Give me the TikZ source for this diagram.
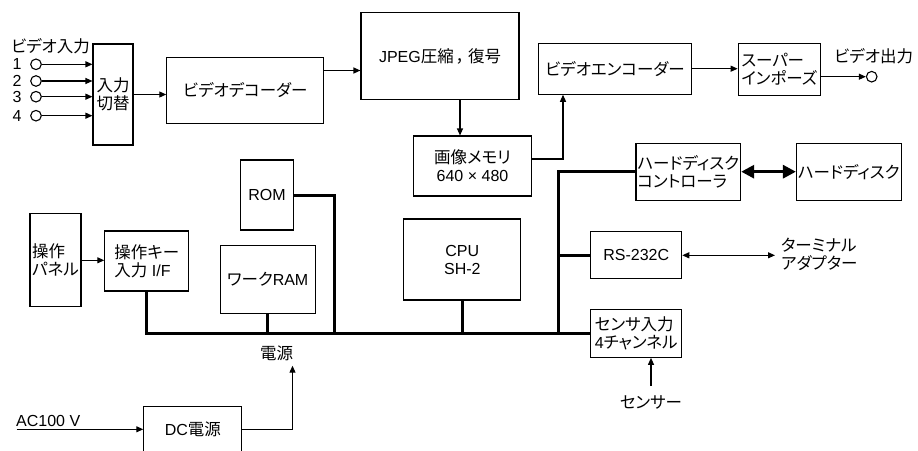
\documentclass[tikz,border=0pt]{standalone}
\usepackage{fontspec}
\setmainfont{Liberation Sans}
\newfontfamily\jp[RawFeature=+palt, Scale=1.03]{Noto Sans CJK JP}
\usetikzlibrary{arrows.meta}

\begin{document}
\begin{tikzpicture}[x=1pt, y=-1pt,
    box/.style={draw, line width=1.1pt, inner sep=1.5pt, font=\fontsize{16}{18}\selectfont},
    lbl/.style={inner sep=1pt, font=\fontsize{16}{18}\selectfont},
    jack/.style={circle, draw, line width=1.1pt, minimum size=10.6pt, inner sep=0pt},
    arr/.style={line width=1.1pt, -{Triangle[length=7pt,width=6pt]}},
    dblarr/.style={line width=1.1pt, {Triangle[length=7pt,width=6pt]}-{Triangle[length=7pt,width=6pt]}},
    bus/.style={line width=3pt},
]
\useasboundingbox (0,0) rectangle (918,450);

% Video path
\node[lbl, anchor=west] (vin) at (10,46) {\jp ビデオ入力};
\node[box, minimum width=40pt, minimum height=101pt, align=center] (sw) at (113,94.5) {{\jp 入力}\\{\jp 切替}};
\foreach \n/\y in {1/64.3, 2/81, 3/96.7, 4/115.7} {
    \node[jack] (in\n) at (36,\y) {};
    \node[lbl] (num\n) at (17,\y) {\n};
    \draw[arr] (in\n.east) -- (in\n.east -| sw.west);
}
\node[box, minimum width=157pt, minimum height=66pt] (dec) at (245.3,90.5) {\jp ビデオデコーダー};
\node[box, minimum width=158pt, minimum height=87pt] (jpeg) at (440,56.3) {JPEG{\jp 圧縮\hspace{3pt}，\hspace{3pt}復号}};
\node[box, minimum width=118pt, minimum height=60pt, align=center] (mem) at (472.5,166) {{\jp 画像メモリ}\\640 × 480};
\node[box, minimum width=153pt, minimum height=51pt] (enc) at (615,68.7) {\jp ビデオエンコーダー};
\node[box, minimum width=82pt, minimum height=52pt, align=left] (sup) at (779.2,69.2) {{\jp スーパー}\\{\jp インポーズ}};
\node[jack] (vout) at (871.7,76.7) {};
\node[lbl] (voutl) at (873.7,56) {\jp ビデオ出力};

\draw[arr] (sw.east) -- (sw.east -| dec.west);
\draw[arr] ([yshift=20pt]dec.east) -- ([yshift=20pt]dec.east -| jpeg.west);
\draw[arr] ([xshift=20pt]jpeg.south) -- ([xshift=20pt]jpeg.south |- mem.north);
\draw[arr] ([yshift=7pt]mem.east) -| ([xshift=-52pt]enc.south);
\draw[arr] (enc.east) -- (enc.east -| sup.west);
\draw[arr] ([yshift=-7.5pt]sup.east) -- (vout.west);

% Control side
\node[box, minimum width=103pt, minimum height=57pt, align=left] (hdc) at (688.3,171.7) {{\jp ハードディスク}\\{\jp コントローラ}};
\node[box, minimum width=104pt, minimum height=57pt] (hd) at (848.8,171.7) {\jp ハードディスク};
\node[box, minimum width=53pt, minimum height=70pt] (rom) at (267,195) {ROM};
\node[box, minimum width=117pt, minimum height=81pt, align=center] (cpu) at (462.3,259.5) {CPU\\SH-2};
\node[box, minimum width=91pt, minimum height=47pt] (rs) at (636.2,255.3) {RS-232C};
\node[box, minimum width=91pt, minimum height=48pt, align=left] (sens) at (636.2,333.3) {{\jp センサ入力}\\4{\jp チャンネル}};
\node[box, minimum width=51pt, minimum height=93pt, align=left] (panel) at (55.5,260.3) {{\jp 操作}\\{\jp パネル}};
\node[box, minimum width=84pt, minimum height=60pt, align=left] (key) at (146.8,261) {{\jp 操作キー}\\{\jp 入力} I/F};
\node[box, minimum width=95pt, minimum height=68pt] (ram) at (267.7,279.5) {{\jp ワーク}RAM};
\node[lbl, anchor=west, align=left] (term) at (780,254) {{\jp ターミナル}\\{\jp アダプター}};
\node[lbl] (sensl) at (651,402) {\jp センサー};

\draw[line width=3pt, {Triangle[length=13pt,width=13pt]}-{Triangle[length=13pt,width=13pt]}] (hdc.east) -- (hdc.east -| hd.west);
\draw[dblarr, shorten >=5pt] (rs.east) -- (rs.east -| term.west);
\draw[arr, shorten <=8pt] (sensl.north) -- (sensl.north |- sens.south);
\draw[arr] (panel.east) -- (panel.east -| key.west);

% Bus
\coordinate (romdrop) at (334,333.3);
\coordinate (spine) at (558,333.3);
\draw[bus] (key.south) |- (sens.west);
\draw[bus] (ram.south) -- (ram.south |- sens.west);
\draw[bus] (cpu.south) -- (cpu.south |- sens.west);
\draw[bus] (rom.east) -| (romdrop);
\draw[bus] (hdc.west) -| (spine);
\draw[bus] (rs.west) -- (rs.west -| spine);

% Power
\node[box, minimum width=98pt, minimum height=45.3pt] (dc) at (192.8,429.3) {DC{\jp 電源}};
\node[lbl] (den) at (276.5,353) {\jp 電源};
\coordinate (ac) at (16.7,429.3);
\node[lbl, anchor=south west] (acl) at (15,428) {AC100 V};
\draw[arr] (ac) -- (dc.west);
\draw[arr, shorten >=4pt] (dc.east) -| ([xshift=16pt]den.south);

\end{tikzpicture}
\end{document}
